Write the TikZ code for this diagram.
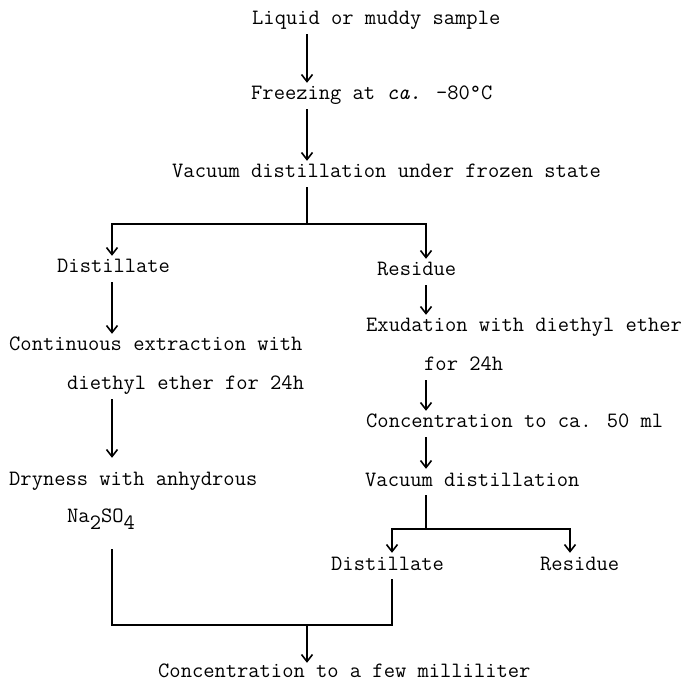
\documentclass[tikz,border=0pt]{standalone}
\usepackage{fontspec}
\usetikzlibrary{arrows.meta}

\def \lineWidth {1.6pt}

\tikzset{
  txt/.style={anchor=base west, inner xsep=0pt, inner ysep=5pt,
    text height=12pt, text depth=4pt, font=\ttfamily\fontsize{21.9}{24}\selectfont},
  link/.style={line width=\lineWidth},
  flow/.style={link, -{Straight Barb[length=7pt,width=11pt]}}
}

\begin{document}
\begin{tikzpicture}[x=1pt,y=-1pt]
  \useasboundingbox (0,0) rectangle (688,684);

  % columns of the flow
  \coordinate (cmain) at (307,0);
  \coordinate (cleft) at (112,0);
  \coordinate (cright) at (426,0);
  \coordinate (cdist) at (392,0);
  \coordinate (cres) at (570,0);
  \coordinate (split) at (307,224);
  \coordinate (subsplit) at (426,529);
  \coordinate (merge) at (307,625);

  % steps
  \node[txt] (liquid) at (252,25) {Liquid or muddy sample};
  \node[txt] (freeze) at (251,100) {Freezing at \textit{ca.} -80°C};
  \node[txt] (vac) at (172,178) {Vacuum distillation under frozen state};
  \node[txt] (dist) at (57,273) {Distillate};
  \node[txt] (res) at (377,276) {Residue};
  \node[txt] (cont) at (9,351) {Continuous extraction with};
  \node[txt] (ether) at (67,390) {diethyl ether for 24h};
  \node[txt] (dry) at (9,485) {Dryness with anhydrous};
  \node[txt] (na) at (67,522) {Na\raisebox{-7pt}{2}SO\raisebox{-7pt}{4}};
  \node[txt] (exud) at (366,332) {Exudation with diethyl ether};
  \node[txt] (hours) at (424,371) {for 24h};
  \node[txt] (conc) at (366,428) {Concentration to ca. 50 ml};
  \node[txt] (vacdist) at (365,486) {Vacuum distillation};
  \node[txt] (subdist) at (331,570) {Distillate};
  \node[txt] (subres) at (540,570) {Residue};
  \node[txt, inner ysep=2pt, text depth=0pt] (final) at (158,677) {Concentration to a few milliliter};

  % main line
  \draw[flow] (liquid.south -| cmain) -- (freeze.north -| cmain);
  \draw[flow] (freeze.south -| cmain) -- (vac.north -| cmain);
  \draw[link] (vac.south -| cmain) -- (split);
  \draw[flow] (split) -| (dist.north -| cleft);
  \draw[flow] (split) -| (res.north -| cright);

  % distillate branch
  \draw[flow] (dist.south -| cleft) -- (cont.north -| cleft);
  \draw[flow, shorten >=10pt] (ether.south -| cleft) -- (dry.north -| cleft);

  % residue branch
  \draw[flow] (res.south -| cright) -- (exud.north -| cright);
  \draw[flow] (hours.south -| cright) -- (conc.north -| cright);
  \draw[flow] (conc.south -| cright) -- (vacdist.north -| cright);
  \draw[link] (vacdist.south -| cright) -- (subsplit);
  \draw[flow] (subsplit) -| (subdist.north -| cdist);
  \draw[flow] (subsplit) -| (subres.north -| cres);

  % joining
  \draw[link, shorten <=18pt] (na.south -| cleft) -- (cleft |- merge)
    -- (cdist |- merge) -- (subdist.south -| cdist);
  \draw[flow] (merge) -- (final.north -| cmain);
\end{tikzpicture}
\end{document}
